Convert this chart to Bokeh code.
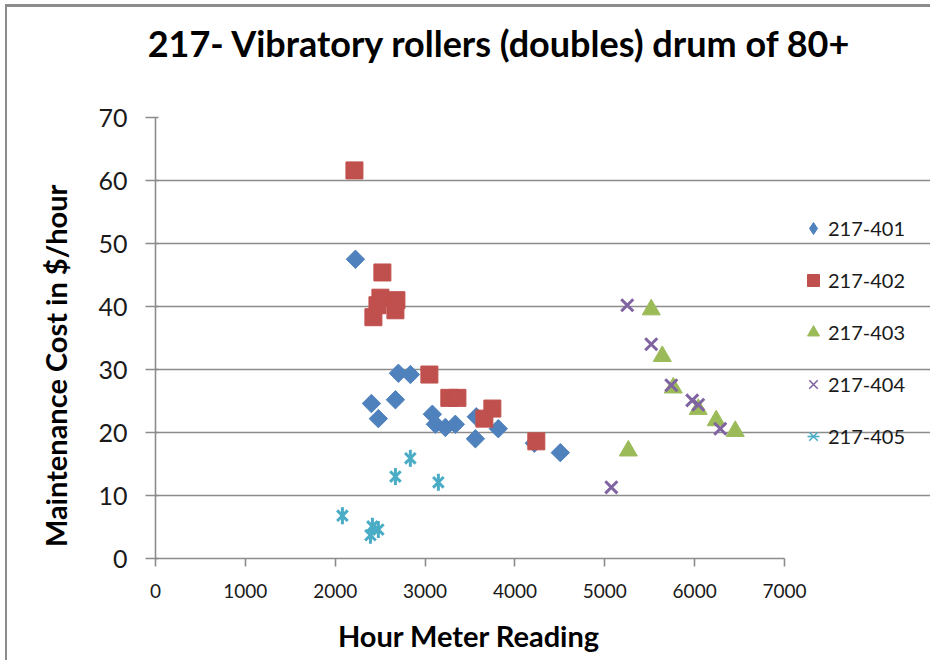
import math
from bokeh.plotting import figure
from bokeh.layouts import column
from bokeh.models import Legend, LegendItem, FixedTicker, Range1d, Div
from bokeh.embed import file_html
from bokeh.resources import INLINE

# Hour meter reading vs maintenance cost, one series per roller unit
x_401 = [2225, 2403, 2480, 2670, 2703, 2837, 3081, 3115, 3226, 3337, 3560, 3570, 3815, 4216, 4505]
y_401 = [47.5, 24.6, 22.2, 25.2, 29.4, 29.2, 22.9, 21.3, 20.8, 21.3, 19.0, 22.5, 20.6, 18.3, 16.8]

x_402 = [2214, 2525, 2503, 2425, 2470, 2681, 2670, 3048, 3270, 3360, 3749, 3660, 4238]
y_402 = [61.6, 45.4, 41.4, 38.3, 40.2, 41.0, 39.4, 29.2, 25.5, 25.5, 23.8, 22.2, 18.6]

x_403 = [5517, 5640, 5762, 6040, 6240, 6452, 5262]
y_403 = [39.5, 32.1, 27.1, 23.7, 21.9, 20.2, 17.1]

x_404 = [5250, 5517, 5740, 5973, 6040, 6285, 5073]
y_404 = [40.2, 34.0, 27.5, 25.1, 24.4, 20.6, 11.3]

x_405 = [2836, 2670, 3148, 2080, 2414, 2480, 2392]
y_405 = [15.9, 13.0, 12.1, 6.8, 5.1, 4.6, 3.7]

series_names = ["217-401", "217-402", "217-403", "217-404", "217-405"]
x_ticks = [0, 1000, 2000, 3000, 4000, 5000, 6000, 7000]
y_ticks = [0, 10, 20, 30, 40, 50, 60, 70]
chart_title = "217- Vibratory rollers (doubles) drum of 80+"
x_title = "Hour Meter Reading"
y_title = "Maintenance Cost in $/hour"

FONT = "Lato"
GRID = "#8c8c8c"
PAGE_W, PAGE_H = 923, 653
HEAD_H, FOOT_H = 76, 52
FRAME_LEFT = 148
PLOT_W = 629          # width of the 0..7000 plotting area
X_MAX = 7000
# the frame runs on to the right edge so the legend can sit beside the plot area
x_end = X_MAX * (PAGE_W - FRAME_LEFT) / PLOT_W

head = Div(
    text=chart_title, width=PAGE_W, height=HEAD_H, margin=0,
    styles={
        "font-family": FONT, "font-size": "36px", "font-weight": "bold",
        "line-height": f"{HEAD_H - 4}px", "text-align": "center",
        "text-indent": "60px", "color": "#000000", "white-space": "nowrap",
    },
)

p = figure(
    width=PAGE_W, height=PAGE_H - HEAD_H - FOOT_H, margin=0,
    x_range=Range1d(0, x_end), y_range=Range1d(0, 70),
    output_backend="svg", toolbar_location=None,
    min_border_left=FRAME_LEFT, min_border_right=0,
    min_border_top=110 - HEAD_H, min_border_bottom=50,
)

p.outline_line_color = None
p.xgrid.grid_line_color = None
p.ygrid.grid_line_color = GRID
p.ygrid.grid_line_width = 1.6
p.ygrid.bounds = (0, X_MAX)

p.xaxis.ticker = FixedTicker(ticks=x_ticks)
p.yaxis.ticker = FixedTicker(ticks=y_ticks)
p.xaxis.bounds = (0, X_MAX)
for ax in (p.xaxis, p.yaxis):
    ax.axis_line_color = GRID
    ax.axis_line_width = 1.6
    ax.major_tick_line_color = GRID
    ax.major_tick_line_width = 1.6
    ax.minor_tick_line_color = None
    ax.major_label_text_font = FONT
    ax.major_label_text_color = "#1a1a1a"
    ax.axis_label_text_font = FONT
    ax.axis_label_text_font_style = "bold"
    ax.axis_label_text_font_size = "29px"
    ax.axis_label_text_color = "#000000"

p.xaxis.major_tick_out = 8
p.xaxis.major_tick_in = 0
p.yaxis.major_tick_out = 10
p.yaxis.major_tick_in = 3
p.xaxis.major_label_text_font_size = "19px"
p.yaxis.major_label_text_font_size = "25px"
p.xaxis.major_label_standoff = 17
p.yaxis.major_label_standoff = 18
# trailing no-break spaces nudge the rotated title a little toward the bottom
p.yaxis.axis_label = y_title + "\u00a0" * 8
p.yaxis.axis_label_standoff = 22

BLUE, RED, GREEN, PURPLE, CYAN = "#4f81bd", "#c0504d", "#9bbb59", "#8064a2", "#4bacc6"

# thin-line / upright versions for the legend swatches, drawn beneath the main marks
k1 = p.scatter(x_401, y_401, marker="diamond", size=15, color=BLUE)
k4 = p.scatter(x_404, y_404, marker="x", size=15, line_color=PURPLE, line_width=1.6)
k5a = p.scatter(x_405, y_405, marker="x", size=13, line_color=CYAN, line_width=1.6)
k5b = p.scatter(x_405, y_405, marker="dash", angle=math.pi / 2, size=15, line_color=CYAN, line_width=1.6)

r1 = p.scatter(x_401, y_401, marker="square", angle=math.pi / 4, size=13, color=BLUE)
r2 = p.scatter(x_402, y_402, marker="square", size=17, color=RED)
r3 = p.scatter(x_403, y_403, marker="triangle", size=18, color=GREEN)
r4 = p.scatter(x_404, y_404, marker="x", size=17, line_color=PURPLE, line_width=3)
r5a = p.scatter(x_405, y_405, marker="x", size=15, line_color=CYAN, line_width=3)
r5b = p.scatter(x_405, y_405, marker="dash", angle=math.pi / 2, size=17, line_color=CYAN, line_width=3)

legend = Legend(
    items=[
        LegendItem(label=series_names[0], renderers=[k1]),
        LegendItem(label=series_names[1], renderers=[r2]),
        LegendItem(label=series_names[2], renderers=[r3]),
        LegendItem(label=series_names[3], renderers=[k4]),
        LegendItem(label=series_names[4], renderers=[k5a, k5b]),
    ],
    location=(643, 107),
    orientation="vertical",
    glyph_width=30, glyph_height=30, label_height=30,
    spacing=22, padding=0, margin=0, label_standoff=-4,
    label_text_font=FONT, label_text_font_size="20px", label_text_color="#1a1a1a",
    border_line_color=None, background_fill_alpha=0,
)
p.add_layout(legend, "center")

foot = Div(
    text=x_title, width=PAGE_W, height=FOOT_H, margin=0,
    styles={
        "font-family": FONT, "font-size": "29px", "font-weight": "bold",
        "line-height": f"{FOOT_H + 4}px", "text-align": "center",
        "color": "#000000", "white-space": "nowrap",
    },
)

page = column(
    head, p, foot, spacing=0,
    styles={
        "margin-left": "5px", "margin-top": "4px",
        "border-left": "2px solid #8c8c8c", "border-top": "3px solid #8c8c8c",
    },
)

open("out.html", "w").write(file_html(page, INLINE))
